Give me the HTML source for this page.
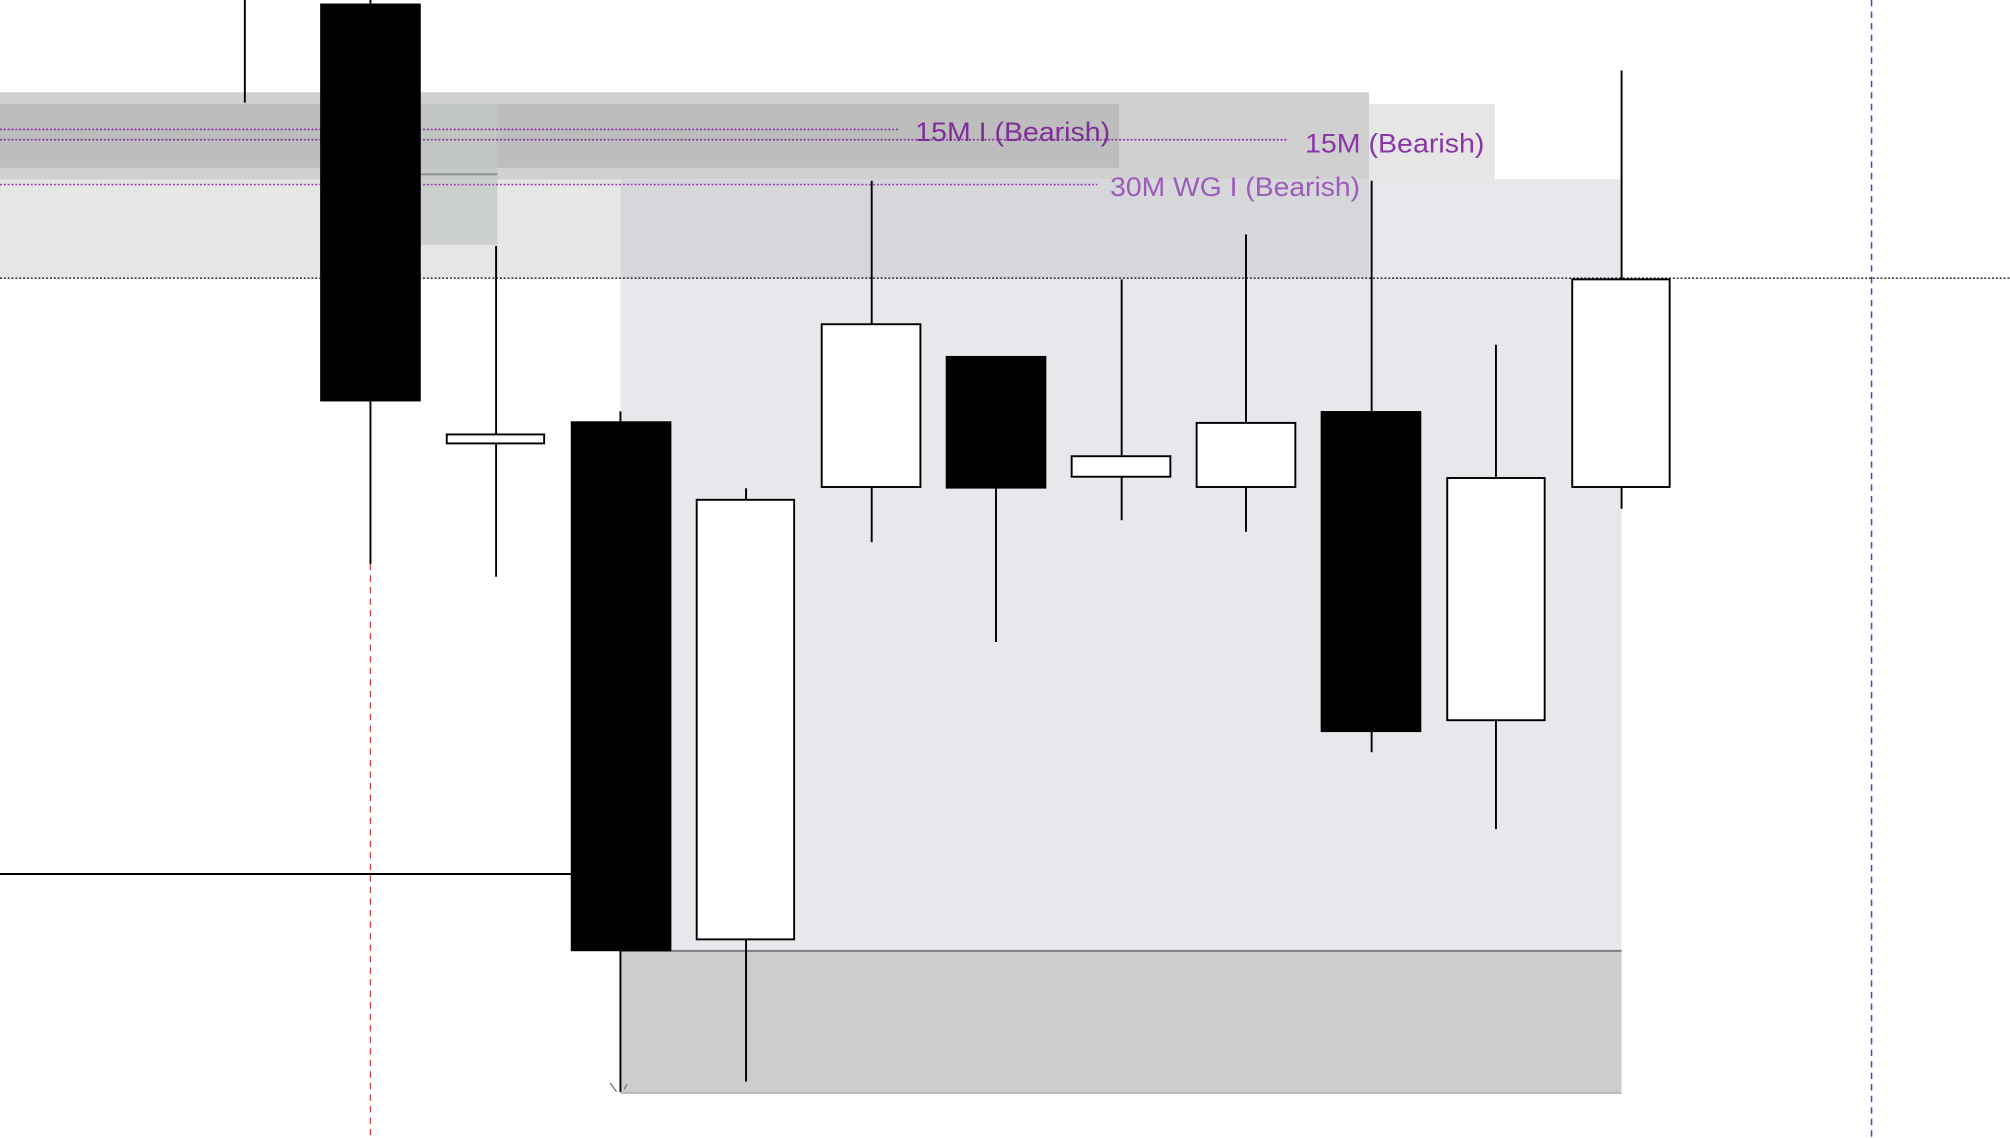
<!DOCTYPE html>
<html><head><meta charset="utf-8"><style>html,body{margin:0;padding:0;background:#fff;overflow:hidden}svg{display:block}</style></head>
<body>
<svg width="2010" height="1138" viewBox="0 0 1568 888" preserveAspectRatio="none" xmlns="http://www.w3.org/2000/svg" font-family="Liberation Sans, sans-serif">
<rect x="0" y="0" width="1568" height="888" fill="#fff"/>
<rect x="0" y="72" width="1068" height="68" fill="#d0d0d0"/>
<rect x="1068" y="81" width="98" height="59" fill="#e6e6e6"/>
<rect x="0" y="81" width="873" height="50" fill="#bdbdbd"/>
<rect x="0" y="140" width="484" height="77" fill="#e6e6e6"/>
<rect x="484" y="140" width="781" height="602" fill="#e7e8eb"/>
<rect x="1068" y="140" width="197" height="77" fill="#e7e8eb"/>
<rect x="484" y="140" width="584" height="77" fill="#d6d7db"/>
<rect x="328" y="81" width="60" height="110" fill="#c3c8c3" fill-opacity="0.75"/>
<line x1="328" y1="136" x2="388" y2="136" stroke="#8c8f8c" stroke-width="1.5"/>
<rect x="484" y="742" width="781" height="111" fill="#cdcdcd"/>
<line x1="484" y1="742" x2="1265" y2="742" stroke="#7a7a82" stroke-width="1.5"/>
<line x1="484" y1="853" x2="1265" y2="853" stroke="#a8a8a8" stroke-width="1"/>
<line x1="0" y1="217" x2="1568" y2="217" stroke="#000" stroke-width="1" stroke-dasharray="1.5,1.5"/>
<line x1="0" y1="101" x2="702" y2="101" stroke="#8a2ea0" stroke-width="1.3" stroke-dasharray="1.5,1.5"/>
<line x1="0" y1="109" x2="1005" y2="109" stroke="#8a2ea0" stroke-width="1.3" stroke-dasharray="1.5,1.5"/>
<line x1="0" y1="144" x2="856" y2="144" stroke="#9a3ab0" stroke-width="1.3" stroke-dasharray="1.5,1.5"/>
<text x="714" y="110" font-size="21" fill="#7e2e96" textLength="152" lengthAdjust="spacingAndGlyphs">15M I (Bearish)</text>
<text x="1018" y="119" font-size="21" fill="#8a35a8" textLength="140" lengthAdjust="spacingAndGlyphs">15M (Bearish)</text>
<text x="866" y="153" font-size="21" fill="#9c5cb8" textLength="195" lengthAdjust="spacingAndGlyphs">30M WG I (Bearish)</text>
<line x1="0" y1="682" x2="446" y2="682" stroke="#000" stroke-width="1.5"/>
<line x1="289" y1="440" x2="289" y2="888" stroke="#d04040" stroke-width="1" stroke-dasharray="5,4"/>
<line x1="1460" y1="0" x2="1460" y2="888" stroke="#3050d0" stroke-width="1.2" stroke-dasharray="5,4"/>
<g stroke="#000" stroke-width="1.5">
<line x1="191" y1="0" x2="191" y2="80"/>
<line x1="289" y1="0" x2="289" y2="440"/>
<line x1="387" y1="192" x2="387" y2="450"/>
<line x1="484" y1="321" x2="484" y2="852"/>
<line x1="582" y1="381" x2="582" y2="844"/>
<line x1="680" y1="141" x2="680" y2="423"/>
<line x1="777" y1="278" x2="777" y2="501"/>
<line x1="875" y1="218" x2="875" y2="406"/>
<line x1="972" y1="183" x2="972" y2="415"/>
<line x1="1070" y1="141" x2="1070" y2="587"/>
<line x1="1167" y1="269" x2="1167" y2="647"/>
<line x1="1265" y1="55" x2="1265" y2="397"/>
</g>
<g stroke="#000" stroke-width="1.5">
<rect x="250.5" y="3.5" width="77" height="309" fill="#000"/>
<rect x="348.5" y="339" width="76" height="7" fill="#fff"/>
<rect x="446" y="329.5" width="77" height="412" fill="#000"/>
<rect x="543.5" y="390" width="76" height="343" fill="#fff"/>
<rect x="641" y="253" width="77" height="127" fill="#fff"/>
<rect x="738.5" y="278.5" width="77" height="102" fill="#000"/>
<rect x="836" y="356" width="77" height="16" fill="#fff"/>
<rect x="933.5" y="330" width="77" height="50" fill="#fff"/>
<rect x="1031" y="321.5" width="77" height="249" fill="#000"/>
<rect x="1129" y="373" width="76" height="189" fill="#fff"/>
<rect x="1226.5" y="218" width="76" height="162" fill="#fff"/>
</g>
<path d="M476 845 L481 852 M489 846 L487 850" stroke="#777" stroke-width="1" fill="none"/>
</svg>
</body></html>
